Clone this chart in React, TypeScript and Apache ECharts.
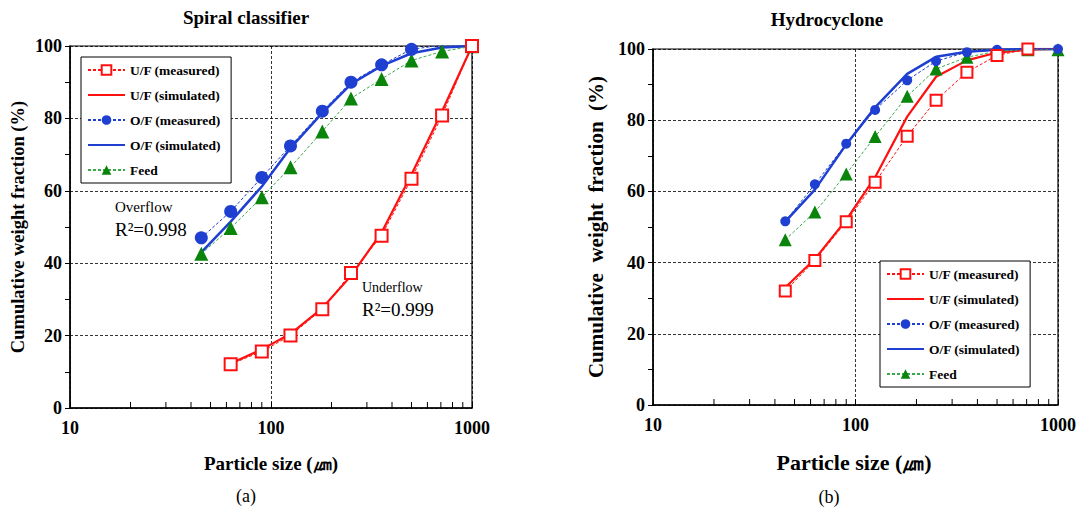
import React, { useEffect, useRef } from "react";
import * as echarts from "echarts";

const sizes = [45, 63, 90, 125, 180, 250, 355, 500, 710, 1000];
const sizesSpiralUF = [63, 90, 125, 180, 250, 355, 500, 710, 1000];
const minorSizes = [20, 30, 40, 50, 60, 70, 80, 90, 200, 300, 400, 500, 600, 700, 800, 900];

const spiralUFMeasured = [12.1, 15.6, 20.0, 27.3, 37.3, 47.6, 63.3, 80.8, 100];
const spiralUFSimulated = [12.3, 16.2, 20.5, 27.6, 36.5, 48.5, 64.5, 82.0, 100];
const spiralOFMeasured = [47.0, 54.3, 63.7, 72.4, 82.0, 90.0, 94.8, 99.1, 100.2, 100];
const spiralOFSimulated = [43.0, 51.5, 61.2, 71.8, 81.5, 89.5, 94.5, 98.0, 99.6, 100];
const spiralFeed = [42.6, 49.7, 58.2, 66.5, 76.4, 85.5, 90.9, 96.0, 98.5, 99.9];

const hydroUFMeasured = [32.0, 40.6, 51.5, 62.6, 75.5, 85.6, 93.5, 98.2, 100, 100.2];
const hydroUFSimulated = [33.0, 41.0, 52.0, 64.0, 81.0, 92.2, 96.8, 99.0, 99.8, 100];
const hydroOFMeasured = [51.6, 62.0, 73.4, 82.9, 91.2, 96.6, 99.1, 99.8, 100, 100];
const hydroOFSimulated = [51.5, 60.5, 73.2, 83.6, 93.0, 97.8, 99.2, 99.8, 100, 100];
const hydroFeed = [46.4, 54.2, 64.9, 75.4, 86.7, 94.4, 97.7, 99.4, 99.8, 99.8];

const legendNames = ["U/F (measured)", "U/F (simulated)", "O/F (measured)", "O/F (simulated)", "Feed"];

const FONT = "Liberation Serif, Times New Roman, serif";
const RED = "#ff1010";
const BLUE = "#1e3fd0";
const GREEN = "#0a840a";
const GREEN_LINE = "#3aa84a";

const pair = (xs: number[], ys: number[]) => xs.map((x, i) => [x, ys[i]]);

function buildSeries(idx: number, uf: number[][], ufSim: number[][], of: number[][], ofSim: number[][], feed: number[][], big: boolean) {
  const sq = big ? 12 : 11;
  const ci = big ? 13 : 10;
  const tr = big ? 14 : 13;
  return [
    {
      name: legendNames[1], type: "line", xAxisIndex: idx, yAxisIndex: idx, data: ufSim,
      symbol: "none", lineStyle: { color: RED, width: 2.2 }, itemStyle: { color: RED }, z: 3,
    },
    {
      name: legendNames[3], type: "line", xAxisIndex: idx, yAxisIndex: idx, data: ofSim,
      symbol: "none", lineStyle: { color: BLUE, width: 2.5 }, itemStyle: { color: BLUE }, z: 3,
    },
    {
      name: legendNames[4], type: "line", xAxisIndex: idx, yAxisIndex: idx, data: feed,
      symbol: "triangle", symbolSize: tr,
      lineStyle: { color: GREEN_LINE, width: 1, type: [3, 2] }, itemStyle: { color: GREEN }, z: 4,
    },
    {
      name: legendNames[2], type: "line", xAxisIndex: idx, yAxisIndex: idx, data: of,
      symbol: "circle", symbolSize: ci,
      lineStyle: { color: BLUE, width: 1, type: [3, 2] }, itemStyle: { color: BLUE }, z: 5,
    },
    {
      name: legendNames[0], type: "line", xAxisIndex: idx, yAxisIndex: idx, data: uf,
      symbol: "emptyRect", symbolSize: sq,
      lineStyle: { color: RED, width: 1, type: [3, 2] }, itemStyle: { color: RED, borderWidth: 2.6, borderColor: RED }, z: 6,
    },
    {
      type: "custom", xAxisIndex: idx, yAxisIndex: idx, silent: true, z: 7,
      data: minorSizes.map((v) => [v, 0]),
      renderItem: (params: any, api: any) => {
        const p = api.coord([api.value(0), 0]);
        return {
          type: "line",
          shape: { x1: p[0], y1: p[1], x2: p[0], y2: p[1] - 6 },
          style: { stroke: "#000", lineWidth: 1 },
        };
      },
    },
  ];
}

function xAxis(idx: number) {
  return {
    type: "log", logBase: 10, min: 10, max: 1000, gridIndex: idx,
    axisLine: { show: true, lineStyle: { color: "#000", width: 1.5 } },
    axisTick: { show: true, inside: true, length: 6, lineStyle: { color: "#000" } },
    axisLabel: {
      color: "#000", fontFamily: FONT, fontWeight: "bold", fontSize: 18, margin: 11,
      formatter: (v: number) => String(Math.round(v)),
    },
    splitLine: { show: true, lineStyle: { color: "#000", width: 0.8, type: [3, 2] } },
  };
}

function yAxis(idx: number) {
  return {
    type: "value", min: 0, max: 100, interval: 20, gridIndex: idx,
    axisLine: { show: true, lineStyle: { color: "#000", width: 1.5 } },
    axisTick: { show: true, inside: false, length: 5, lineStyle: { color: "#000" } },
    minorTick: { show: true, splitNumber: 2, length: 5, lineStyle: { color: "#000" } },
    axisLabel: { color: "#000", fontFamily: FONT, fontWeight: "bold", fontSize: 18, margin: 8 },
    splitLine: { show: true, lineStyle: { color: "#000", width: 0.8, type: [3, 2] } },
  };
}

function legend(left: number, top: number) {
  return {
    left, top, orient: "vertical",
    data: legendNames.map((n) =>
      n.indexOf("simulated") >= 0 ? { name: n, itemStyle: { opacity: 0 } } : { name: n }
    ),
    itemWidth: 37, itemHeight: 12, itemGap: 11,
    padding: [6, 10, 6, 6],
    borderColor: "#000", borderWidth: 1, backgroundColor: "#fff",
    textStyle: { fontFamily: FONT, fontWeight: "bold", fontSize: 13.5, color: "#000", lineHeight: 14 },
    selectedMode: false,
  };
}

function txt(text: string, x: number, y: number, size: number, bold: boolean, extra: any = {}) {
  return {
    type: "text", x, y, silent: true, ...extra,
    style: {
      text, fill: "#000", font: `${bold ? "bold " : ""}${size}px ${FONT}`,
      textAlign: extra.align || "left", textVerticalAlign: "middle",
    },
  };
}

export default function App() {
  const ref = useRef<HTMLDivElement>(null);
  useEffect(() => {
    if (!ref.current) return;
    const chart = echarts.init(ref.current, undefined, { renderer: "svg" });
    const option: any = {
      animation: false,
      backgroundColor: "#fff",
      grid: [
        { left: 70, top: 46, width: 402, height: 362, show: true, borderColor: "#000", borderWidth: 1.2, backgroundColor: "transparent" },
        { left: 653, top: 49, width: 405, height: 356, show: true, borderColor: "#000", borderWidth: 1.2, backgroundColor: "transparent" },
      ],
      xAxis: [xAxis(0), xAxis(1)],
      yAxis: [yAxis(0), yAxis(1)],
      legend: [legend(81, 57), legend(880, 261)],
      series: [
        ...buildSeries(0, pair(sizesSpiralUF, spiralUFMeasured), pair(sizesSpiralUF, spiralUFSimulated),
          pair(sizes, spiralOFMeasured), pair(sizes, spiralOFSimulated), pair(sizes, spiralFeed), true),
        ...buildSeries(1, pair(sizes, hydroUFMeasured), pair(sizes, hydroUFSimulated),
          pair(sizes, hydroOFMeasured), pair(sizes, hydroOFSimulated), pair(sizes, hydroFeed), false),
      ],
      graphic: [
        txt("Spiral classifier", 246, 17, 19, true, { align: "center" }),
        txt("Hydrocyclone", 827, 19, 19, true, { align: "center" }),
        { ...txt("Cumulative weight fraction (%)", 18, 227, 18.5, true, { align: "center" }), rotation: Math.PI / 2 },
        { ...txt("Cumulative  weight  fraction  (%)", 596, 227, 21, true, { align: "center" }), rotation: Math.PI / 2 },
        txt("Particle size (㎛)", 271, 463, 19, true, { align: "center" }),
        txt("Particle size (㎛)", 854, 462, 22, true, { align: "center" }),
        txt("(a)", 246, 496, 18, false, { align: "center" }),
        txt("(b)", 829, 497, 18, false, { align: "center" }),
        txt("Overflow", 115, 207, 15, false),
        txt("R²=0.998", 115, 229, 19, false),
        txt("Underflow", 362, 287, 14, false),
        txt("R²=0.999", 362, 309, 19, false),
      ],
    };
    chart.setOption(option);
    return () => chart.dispose();
  }, []);
  return <div ref={ref} style={{ position: "fixed", left: 0, top: 0, width: 1090, height: 510 }} />;
}
